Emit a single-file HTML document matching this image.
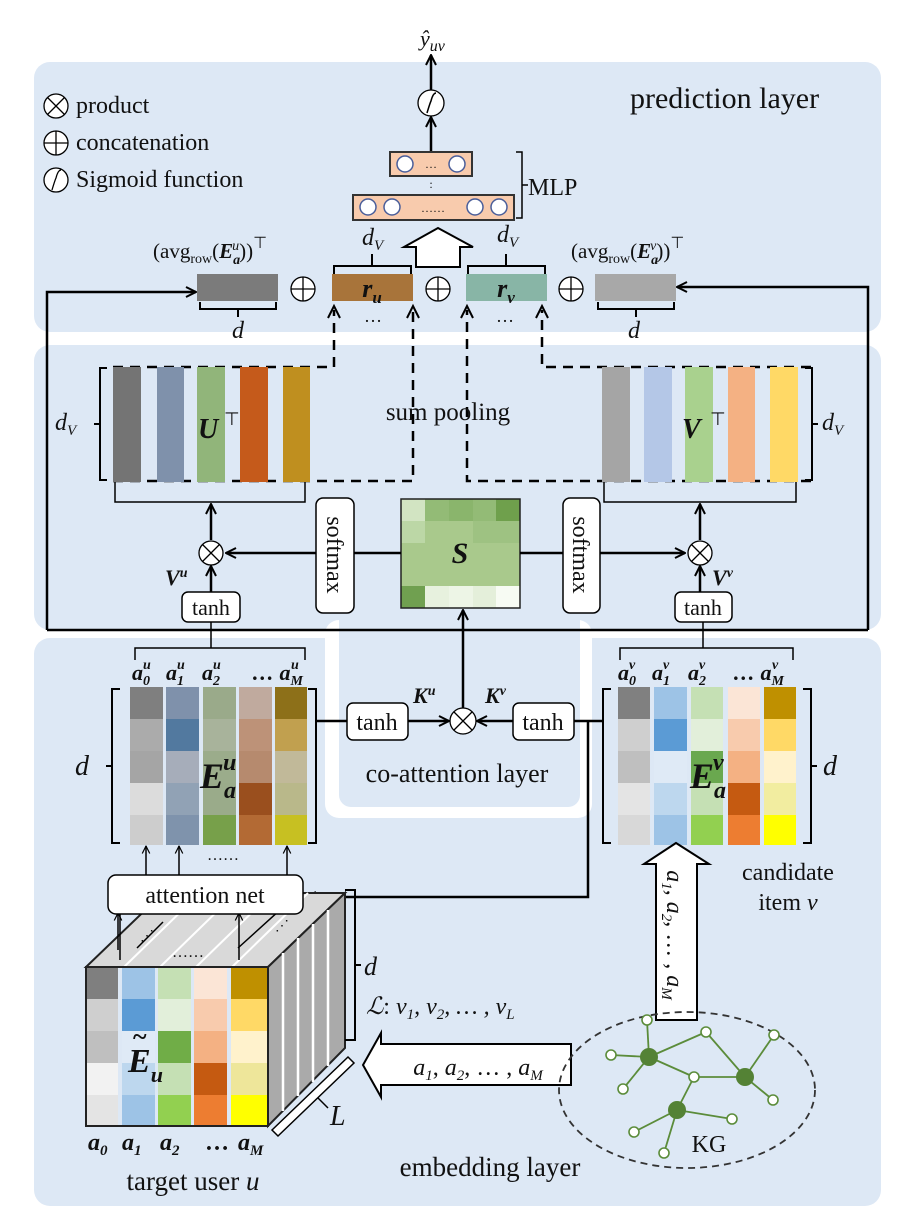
<!DOCTYPE html>
<html><head><meta charset="utf-8"><style>
html,body{margin:0;padding:0;background:#fff;}
svg{display:block;}
text{font-family:"Liberation Serif",serif;fill:#111;}
</style></head><body>
<svg width="908" height="1222" viewBox="0 0 908 1222" xmlns="http://www.w3.org/2000/svg">
<defs>
<marker id="ah" viewBox="0 0 12 12" refX="11" refY="6" markerWidth="12" markerHeight="12" markerUnits="userSpaceOnUse" orient="auto">
<path d="M1,1 L11,6 L1,11" fill="none" stroke="#000" stroke-width="2"/></marker>
<marker id="ahs" viewBox="0 0 12 12" refX="11" refY="6" markerWidth="9" markerHeight="9" markerUnits="userSpaceOnUse" orient="auto">
<path d="M1,1 L11,6 L1,11" fill="none" stroke="#000" stroke-width="1.6"/></marker>
</defs>
<rect width="908" height="1222" fill="#fff"/>
<rect x="34" y="62" width="847" height="270" rx="16" fill="#dde8f5"/>
<rect x="34" y="345" width="847" height="285" rx="16" fill="#dde8f5"/>
<rect x="34" y="638" width="847" height="568" rx="16" fill="#dde8f5"/>
<rect x="325" y="620" width="267" height="198" rx="14" fill="#fff"/>
<rect x="339" y="600" width="241" height="207" rx="12" fill="#dde8f5"/>

<g stroke="#000" stroke-width="1.3" fill="#fff">
<circle cx="56" cy="106" r="12"/><path d="M47.5,97.5 L64.5,114.5 M64.5,97.5 L47.5,114.5"/>
<circle cx="56" cy="143" r="12"/><path d="M44,143 H68 M56,131 V155"/>
<circle cx="56" cy="180" r="12"/><path d="M52,190 Q55,180 56,178 Q58,170 61,170" fill="none"/>
</g>
<text x="76" y="113" font-size="24">product</text>
<text x="76" y="150" font-size="24">concatenation</text>
<text x="76" y="187" font-size="24">Sigmoid function</text>
<text x="630" y="108" font-size="30">prediction layer</text>

<text x="420" y="46" font-size="22" font-style="italic">ŷ<tspan font-size="16" dy="5">uv</tspan></text>
<line x1="431" y1="90" x2="431" y2="55" stroke="#000" stroke-width="2.5" marker-end="url(#ah)"/>
<circle cx="431" cy="103" r="13" fill="#fff" stroke="#000" stroke-width="1.3"/>
<path d="M427,113 Q430,103 431,101 Q433,93 436,93" fill="none" stroke="#000" stroke-width="1.5"/>
<line x1="431" y1="152" x2="431" y2="117" stroke="#000" stroke-width="2.5" marker-end="url(#ah)"/>
<rect x="390" y="152" width="82" height="24" fill="#f8cbad" stroke="#333" stroke-width="2"/>
<circle cx="405" cy="164" r="8" fill="#fff" stroke="#4a5e9a" stroke-width="1.5"/>
<circle cx="457" cy="164" r="8" fill="#fff" stroke="#4a5e9a" stroke-width="1.5"/>
<text x="431" y="168" font-size="12" text-anchor="middle">…</text>
<text x="431" y="188" font-size="12" text-anchor="middle">:</text>
<rect x="353" y="195" width="161" height="25" fill="#f8cbad" stroke="#333" stroke-width="2"/>
<g fill="#fff" stroke="#4a5e9a" stroke-width="1.5">
<circle cx="368" cy="207" r="8"/><circle cx="392" cy="207" r="8"/><circle cx="475" cy="207" r="8"/><circle cx="499" cy="207" r="8"/></g>
<text x="433" y="212" font-size="12" text-anchor="middle">……</text>
<path d="M516,152 h6 v66 h-6 M522,185 h6" fill="none" stroke="#000" stroke-width="1.5"/>
<text x="528" y="195" font-size="24">MLP</text>
<path d="M416,267 V247 H404 L438,228 L473,247 H460 V267 Z" fill="#fff" stroke="#000" stroke-width="2"/>

<rect x="197" y="274" width="81" height="27" fill="#7b7b7b"/>
<rect x="332" y="274" width="81" height="27" fill="#a8743a"/>
<rect x="466" y="274" width="81" height="27" fill="#88b5a6"/>
<rect x="595" y="274" width="81" height="27" fill="#a8a8a8"/>
<text x="372" y="297" font-size="26" font-weight="bold" font-style="italic" text-anchor="middle">r<tspan font-size="17" dy="6">u</tspan></text>
<text x="506" y="297" font-size="26" font-weight="bold" font-style="italic" text-anchor="middle">r<tspan font-size="17" dy="6">v</tspan></text>
<g stroke="#000" stroke-width="1.3" fill="#fff">
<circle cx="303" cy="289" r="12"/><path d="M291,289 H315 M303,277 V301"/>
<circle cx="438" cy="289" r="12"/><path d="M426,289 H450 M438,277 V301"/>
<circle cx="571" cy="289" r="12"/><path d="M559,289 H583 M571,277 V301"/>
</g>
<g fill="none" stroke="#000" stroke-width="2">
<path d="M200,302 v7 h76 v-7 M238,309 v8"/>
<path d="M598,302 v7 h76 v-7 M636,309 v8"/>
<path d="M334,274 v-8 h77 v8 M372,266 v-12"/>
<path d="M468,274 v-8 h77 v8 M506,266 v-12"/>
</g>
<text x="362" y="245" font-size="24" font-style="italic">d<tspan font-size="15" dy="5">V</tspan></text>
<text x="497" y="242" font-size="24" font-style="italic">d<tspan font-size="15" dy="5">V</tspan></text>
<text x="232" y="338" font-size="24" font-style="italic">d</text>
<text x="628" y="338" font-size="24" font-style="italic">d</text>
<text x="153" y="258" font-size="21">(avg<tspan font-size="14" dy="5">row</tspan><tspan dy="-5">(</tspan><tspan font-weight="bold" font-style="italic">E</tspan><tspan font-size="14" font-weight="bold" font-style="italic" dy="6">a</tspan><tspan font-size="14" font-style="italic" dx="-8" dy="-14">u</tspan><tspan dy="8">))</tspan><tspan font-size="16" dy="-10">⊤</tspan></text>
<text x="571" y="258" font-size="21">(avg<tspan font-size="14" dy="5">row</tspan><tspan dy="-5">(</tspan><tspan font-weight="bold" font-style="italic">E</tspan><tspan font-size="14" font-weight="bold" font-style="italic" dy="6">a</tspan><tspan font-size="14" font-style="italic" dx="-8" dy="-14">v</tspan><tspan dy="8">))</tspan><tspan font-size="16" dy="-10">⊤</tspan></text>

<path d="M47,630 V292 H196" fill="none" stroke="#000" stroke-width="2.5" marker-end="url(#ah)"/>
<path d="M868,630 V287 H677" fill="none" stroke="#000" stroke-width="2.5" marker-end="url(#ah)"/>
<path d="M47,630 H868" fill="none" stroke="#000" stroke-width="2.5"/>

<g fill="none" stroke="#000" stroke-width="2.5" stroke-dasharray="10,7">
<path d="M113,367 H334 V310"/>
<path d="M113,481 H413 V310"/>
<path d="M811,481 H467 V310"/>
<path d="M811,367 H542 V310"/>
</g>
<g fill="none" stroke="#000" stroke-width="2">
<path d="M328,318 L334,306 L340,318"/><path d="M407,318 L413,306 L419,318"/>
<path d="M461,318 L467,306 L473,318"/><path d="M536,318 L542,306 L548,318"/>
</g>
<text x="373" y="322" font-size="18" text-anchor="middle">…</text>
<text x="505" y="322" font-size="18" text-anchor="middle">…</text>

<rect x="113" y="367" width="28" height="115" fill="#747474"/>
<rect x="157" y="367" width="27" height="115" fill="#7f91ab"/>
<rect x="197" y="367" width="28" height="115" fill="#91b57a"/>
<rect x="240" y="367" width="28" height="115" fill="#c55a1b"/>
<rect x="283" y="367" width="27" height="115" fill="#bf8f1f"/>
<path d="M107,368 h-7 v112 h7 M100,424 h-6" fill="none" stroke="#000" stroke-width="2"/>
<text x="55" y="430" font-size="24" font-style="italic">d<tspan font-size="15" dy="5">V</tspan></text>
<text x="198" y="438" font-size="28" font-weight="bold" font-style="italic">U</text>
<text x="224" y="425" font-size="18">⊤</text>
<rect x="602" y="367" width="28" height="115" fill="#a5a5a5"/>
<rect x="644" y="367" width="28" height="115" fill="#b4c7e7"/>
<rect x="685" y="367" width="28" height="115" fill="#a9d18e"/>
<rect x="728" y="367" width="27" height="115" fill="#f4b183"/>
<rect x="770" y="367" width="28" height="115" fill="#ffd966"/>
<path d="M805,368 h7 v112 h-7 M812,424 h6" fill="none" stroke="#000" stroke-width="2"/>
<text x="822" y="430" font-size="24" font-style="italic">d<tspan font-size="15" dy="5">V</tspan></text>
<text x="682" y="438" font-size="28" font-weight="bold" font-style="italic">V</text>
<text x="710" y="425" font-size="18">⊤</text>
<text x="448" y="420" font-size="25" text-anchor="middle">sum pooling</text>

<path d="M115,482 v20 h190 v-20" fill="none" stroke="#000" stroke-width="1.5"/>
<path d="M604,482 v20 h192 v-20" fill="none" stroke="#000" stroke-width="1.5"/>
<line x1="211" y1="540" x2="211" y2="504" stroke="#000" stroke-width="2.5" marker-end="url(#ah)"/>
<line x1="700" y1="540" x2="700" y2="504" stroke="#000" stroke-width="2.5" marker-end="url(#ah)"/>
<g transform="translate(401,499)">
<rect width="119" height="109" fill="#a9c98c"/>
<rect x="0" y="0" width="24" height="22" fill="#d2e4c2"/>
<rect x="24" y="0" width="24" height="22" fill="#93bb76"/>
<rect x="48" y="0" width="24" height="22" fill="#8ab56c"/>
<rect x="72" y="0" width="24" height="22" fill="#93bb76"/>
<rect x="95" y="0" width="24" height="22" fill="#6fa04c"/>
<rect x="0" y="22" width="24" height="22" fill="#bcd7a6"/>
<rect x="72" y="22" width="47" height="22" fill="#9ec282"/>
<rect x="0" y="87" width="24" height="22" fill="#70a050"/>
<rect x="24" y="87" width="24" height="22" fill="#e7f1de"/>
<rect x="48" y="87" width="24" height="22" fill="#edf5e6"/>
<rect x="72" y="87" width="24" height="22" fill="#e4efda"/>
<rect x="95" y="87" width="24" height="22" fill="#f7fbf3"/>
<rect width="119" height="109" fill="none" stroke="#222" stroke-width="1.5"/>
</g>
<text x="460" y="563" font-size="30" font-weight="bold" font-style="italic" text-anchor="middle">S</text>
<line x1="401" y1="553" x2="226" y2="553" stroke="#000" stroke-width="2.5" marker-end="url(#ah)"/>
<line x1="520" y1="553" x2="685" y2="553" stroke="#000" stroke-width="2.5" marker-end="url(#ah)"/>
<rect x="316" y="498" width="38" height="115" rx="7" fill="#fff" stroke="#000" stroke-width="1.5"/>
<rect x="563" y="498" width="37" height="115" rx="7" fill="#fff" stroke="#000" stroke-width="1.5"/>
<text transform="translate(327,555) rotate(90)" font-size="24" text-anchor="middle">softmax</text>
<text transform="translate(573,555) rotate(90)" font-size="24" text-anchor="middle">softmax</text>
<g stroke="#000" stroke-width="1.3" fill="#fff">
<circle cx="211" cy="553" r="12"/><path d="M202.5,544.5 L219.5,561.5 M219.5,544.5 L202.5,561.5"/>
<circle cx="700" cy="553" r="12"/><path d="M691.5,544.5 L708.5,561.5 M708.5,544.5 L691.5,561.5"/>
</g>
<line x1="211" y1="592" x2="211" y2="566" stroke="#000" stroke-width="2.5" marker-end="url(#ah)"/>
<line x1="700" y1="592" x2="700" y2="566" stroke="#000" stroke-width="2.5" marker-end="url(#ah)"/>
<text x="165" y="585" font-size="22" font-weight="bold" font-style="italic">V<tspan font-size="14" dy="-8">u</tspan></text>
<text x="712" y="585" font-size="22" font-weight="bold" font-style="italic">V<tspan font-size="14" dy="-8">v</tspan></text>
<rect x="182" y="592" width="58" height="30" rx="6" fill="#fff" stroke="#000" stroke-width="1.5"/>
<rect x="675" y="592" width="57" height="30" rx="6" fill="#fff" stroke="#000" stroke-width="1.5"/>
<text x="211" y="615" font-size="22" text-anchor="middle">tanh</text>
<text x="703" y="615" font-size="22" text-anchor="middle">tanh</text>
<path d="M211,622 V648 M135,660 v-12 h170 v12" fill="none" stroke="#000" stroke-width="1.5"/>
<path d="M703,622 V648 M620,660 v-12 h173 v12" fill="none" stroke="#000" stroke-width="1.5"/>

<g font-size="22" font-weight="bold" font-style="italic">
<text x="132" y="680">a<tspan font-size="14" dy="5">0</tspan><tspan font-size="14" dx="-7" dy="-16">u</tspan></text>
<text x="166" y="680">a<tspan font-size="14" dy="5">1</tspan><tspan font-size="14" dx="-7" dy="-16">u</tspan></text>
<text x="202" y="680">a<tspan font-size="14" dy="5">2</tspan><tspan font-size="14" dx="-7" dy="-16">u</tspan></text>
<text x="252" y="680">… a<tspan font-size="14" dy="5">M</tspan><tspan font-size="14" dx="-12" dy="-16">u</tspan></text>
<text x="618" y="680">a<tspan font-size="14" dy="5">0</tspan><tspan font-size="14" dx="-7" dy="-16">v</tspan></text>
<text x="652" y="680">a<tspan font-size="14" dy="5">1</tspan><tspan font-size="14" dx="-7" dy="-16">v</tspan></text>
<text x="688" y="680">a<tspan font-size="14" dy="5">2</tspan><tspan font-size="14" dx="-7" dy="-16">v</tspan></text>
<text x="733" y="680">… a<tspan font-size="14" dy="5">M</tspan><tspan font-size="14" dx="-12" dy="-16">v</tspan></text>
</g>

<g transform="translate(130,687)">
<rect x="0" y="0" width="33" height="32" fill="#7f7f7f"/><rect x="0" y="32" width="33" height="32" fill="#ababab"/><rect x="0" y="64" width="33" height="32" fill="#a5a5a5"/><rect x="0" y="96" width="33" height="32" fill="#dcdcdc"/><rect x="0" y="128" width="33" height="30" fill="#cdcdcd"/>
<rect x="36" y="0" width="33" height="32" fill="#7f91ab"/><rect x="36" y="32" width="33" height="32" fill="#52799f"/><rect x="36" y="64" width="33" height="32" fill="#a6adba"/><rect x="36" y="96" width="33" height="32" fill="#91a2b5"/><rect x="36" y="128" width="33" height="30" fill="#7f93ac"/>
<rect x="73" y="0" width="33" height="32" fill="#9aaa8a"/><rect x="73" y="32" width="33" height="32" fill="#a8b39b"/><rect x="73" y="64" width="33" height="32" fill="#9bac8b"/><rect x="73" y="96" width="33" height="32" fill="#9aab8a"/><rect x="73" y="128" width="33" height="30" fill="#77a04a"/>
<rect x="109" y="0" width="33" height="32" fill="#c0aa9e"/><rect x="109" y="32" width="33" height="32" fill="#bd9278"/><rect x="109" y="64" width="33" height="32" fill="#b68a6e"/><rect x="109" y="96" width="33" height="32" fill="#9a4f1e"/><rect x="109" y="128" width="33" height="30" fill="#b36a34"/>
<rect x="145" y="0" width="32" height="32" fill="#8d7019"/><rect x="145" y="32" width="32" height="32" fill="#c1a04f"/><rect x="145" y="64" width="32" height="32" fill="#c1b999"/><rect x="145" y="96" width="32" height="32" fill="#b9b88a"/><rect x="145" y="128" width="32" height="30" fill="#c7c022"/>
</g>
<path d="M120,689 h-8 v154 h8 M112,766 h-6" fill="none" stroke="#000" stroke-width="2"/>
<path d="M308,689 h8 v154 h-8" fill="none" stroke="#000" stroke-width="2"/>
<text x="75" y="775" font-size="28" font-style="italic">d</text>
<text x="200" y="788" font-size="36" font-weight="bold" font-style="italic">E<tspan font-size="24" dy="10">a</tspan><tspan font-size="24" dx="-13" dy="-28">u</tspan></text>

<g transform="translate(618,687)">
<rect x="0" y="0" width="32" height="32" fill="#808080"/><rect x="0" y="32" width="32" height="32" fill="#cfcfcf"/><rect x="0" y="64" width="32" height="32" fill="#bfbfbf"/><rect x="0" y="96" width="32" height="32" fill="#e4e4e4"/><rect x="0" y="128" width="32" height="30" fill="#d8d8d8"/>
<rect x="36" y="0" width="33" height="32" fill="#9dc3e6"/><rect x="36" y="32" width="33" height="32" fill="#5b9bd5"/><rect x="36" y="64" width="33" height="32" fill="#dfeaf6"/><rect x="36" y="96" width="33" height="32" fill="#bdd7ee"/><rect x="36" y="128" width="33" height="30" fill="#9dc3e6"/>
<rect x="73" y="0" width="32" height="32" fill="#c5e0b4"/><rect x="73" y="32" width="32" height="32" fill="#e2efda"/><rect x="73" y="64" width="32" height="32" fill="#6aa84f"/><rect x="73" y="96" width="32" height="32" fill="#c5e0b4"/><rect x="73" y="128" width="32" height="30" fill="#92d050"/>
<rect x="110" y="0" width="32" height="32" fill="#fbe5d6"/><rect x="110" y="32" width="32" height="32" fill="#f8cbad"/><rect x="110" y="64" width="32" height="32" fill="#f4b183"/><rect x="110" y="96" width="32" height="32" fill="#c55a11"/><rect x="110" y="128" width="32" height="30" fill="#ed7d31"/>
<rect x="146" y="0" width="32" height="32" fill="#bf9000"/><rect x="146" y="32" width="32" height="32" fill="#ffd966"/><rect x="146" y="64" width="32" height="32" fill="#fff2cc"/><rect x="146" y="96" width="32" height="32" fill="#f2eda0"/><rect x="146" y="128" width="32" height="30" fill="#ffff00"/>
</g>
<path d="M611,689 h-8 v154 h8" fill="none" stroke="#000" stroke-width="2"/>
<path d="M803,689 h8 v154 h-8 M811,766 h6" fill="none" stroke="#000" stroke-width="2"/>
<text x="823" y="775" font-size="28" font-style="italic">d</text>
<text x="690" y="788" font-size="36" font-weight="bold" font-style="italic">E<tspan font-size="24" dy="10">a</tspan><tspan font-size="24" dx="-13" dy="-28">v</tspan></text>

<line x1="316" y1="721" x2="347" y2="721" stroke="#000" stroke-width="2.5"/>
<line x1="408" y1="721" x2="449" y2="721" stroke="#000" stroke-width="2.5" marker-end="url(#ah)"/>
<line x1="513" y1="721" x2="477" y2="721" stroke="#000" stroke-width="2.5" marker-end="url(#ah)"/>
<line x1="574" y1="721" x2="603" y2="721" stroke="#000" stroke-width="2.5"/>
<rect x="347" y="703" width="61" height="37" rx="6" fill="#fff" stroke="#000" stroke-width="1.5"/>
<rect x="513" y="703" width="61" height="37" rx="6" fill="#fff" stroke="#000" stroke-width="1.5"/>
<text x="377" y="730" font-size="24" text-anchor="middle">tanh</text>
<text x="543" y="730" font-size="24" text-anchor="middle">tanh</text>
<circle cx="463" cy="721" r="13" fill="#fff" stroke="#000" stroke-width="1.3"/>
<path d="M454,712 L472,730 M472,712 L454,730" stroke="#000" stroke-width="1.3"/>
<line x1="463" y1="708" x2="463" y2="610" stroke="#000" stroke-width="2.5" marker-end="url(#ah)"/>
<text x="413" y="703" font-size="22" font-weight="bold" font-style="italic">K<tspan font-size="14" dy="-8">u</tspan></text>
<text x="485" y="703" font-size="22" font-weight="bold" font-style="italic">K<tspan font-size="14" dy="-8">v</tspan></text>
<text x="457" y="782" font-size="26" text-anchor="middle">co-attention layer</text>

<path d="M588,721 V897 H306" fill="none" stroke="#000" stroke-width="2.5" marker-end="url(#ah)"/>

<polygon points="86,967 163,893 345,893 268,967" fill="#d9d9d9" stroke="#222" stroke-width="2"/>
<g stroke="#fff" stroke-width="2">
<line x1="124" y1="967" x2="200" y2="893"/><line x1="160" y1="967" x2="236" y2="893"/><line x1="196" y1="967" x2="272" y2="893"/><line x1="232" y1="967" x2="308" y2="893"/>
</g>
<polygon points="268,967 345,893 345,1048 268,1126" fill="#aaaaaa" stroke="#222" stroke-width="2"/>
<g stroke="#fff" stroke-width="2.5">
<line x1="283" y1="953" x2="283" y2="1111"/><line x1="298" y1="938" x2="298" y2="1096"/><line x1="313" y1="924" x2="313" y2="1082"/><line x1="328" y1="910" x2="328" y2="1066"/>
</g>
<g transform="translate(86,967)">
<rect x="0" y="0" width="32" height="32" fill="#7f7f7f"/><rect x="0" y="32" width="32" height="32" fill="#cfcfcf"/><rect x="0" y="64" width="32" height="32" fill="#bfbfbf"/><rect x="0" y="96" width="32" height="32" fill="#f2f2f2"/><rect x="0" y="128" width="32" height="31" fill="#e4e4e4"/>
<rect x="36" y="0" width="33" height="32" fill="#9dc3e6"/><rect x="36" y="32" width="33" height="32" fill="#5b9bd5"/><rect x="36" y="64" width="33" height="32" fill="#dfeaf6"/><rect x="36" y="96" width="33" height="32" fill="#bdd7ee"/><rect x="36" y="128" width="33" height="31" fill="#9dc3e6"/>
<rect x="72" y="0" width="33" height="32" fill="#c5e0b4"/><rect x="72" y="32" width="33" height="32" fill="#e2efda"/><rect x="72" y="64" width="33" height="32" fill="#70ad47"/><rect x="72" y="96" width="33" height="32" fill="#c5e0b4"/><rect x="72" y="128" width="33" height="31" fill="#92d050"/>
<rect x="108" y="0" width="33" height="32" fill="#fbe5d6"/><rect x="108" y="32" width="33" height="32" fill="#f8cbad"/><rect x="108" y="64" width="33" height="32" fill="#f4b183"/><rect x="108" y="96" width="33" height="32" fill="#c55a11"/><rect x="108" y="128" width="33" height="31" fill="#ed7d31"/>
<rect x="145" y="0" width="37" height="32" fill="#bf9000"/><rect x="145" y="32" width="37" height="32" fill="#ffd966"/><rect x="145" y="64" width="37" height="32" fill="#fff2cc"/><rect x="145" y="96" width="37" height="32" fill="#eee69a"/><rect x="145" y="128" width="37" height="31" fill="#ffff00"/>
<rect x="0" y="0" width="182" height="159" fill="none" stroke="#222" stroke-width="2"/>
</g>
<text x="128" y="1072" font-size="34" font-weight="bold" font-style="italic">E<tspan font-size="22" dy="10">u</tspan></text>
<text x="133" y="1045" font-size="26" font-weight="bold">~</text>
<g stroke="#000" stroke-width="1.5" fill="none">
<line x1="118" y1="950" x2="118" y2="913" marker-end="url(#ahs)"/>
<line x1="120" y1="960" x2="120" y2="914"/>
<line x1="239" y1="960" x2="239" y2="913" marker-end="url(#ahs)"/>
<path d="M137,948 L163,922"/>
<path d="M238,948 L280,910 L280,914"/>
</g>
<text x="172" y="957" font-size="16">……</text>
<text x="140" y="940" font-size="14">⋰</text>
<text x="275" y="930" font-size="14">⋰</text>
<path d="M272,1130 L348,1057 L354,1063 L278,1136 Z" fill="#fff" stroke="#000" stroke-width="1.5"/>
<line x1="318" y1="1098" x2="328" y2="1108" stroke="#000" stroke-width="1.5"/>
<text x="330" y="1125" font-size="28" font-style="italic">L</text>
<path d="M345,890 h10 v150 h-10 M355,965 h6" fill="none" stroke="#000" stroke-width="2"/>
<text x="364" y="975" font-size="26" font-style="italic">d</text>
<text x="366" y="1014" font-size="24" font-style="italic">ℒ<tspan font-style="normal">: </tspan>v<tspan font-size="15" dy="5">1</tspan><tspan dy="-5">, </tspan>v<tspan font-size="15" dy="5">2</tspan><tspan dy="-5">, … , </tspan>v<tspan font-size="15" dy="5">L</tspan></text>

<rect x="108" y="875" width="195" height="39" rx="8" fill="#fff" stroke="#000" stroke-width="1.5"/>
<text x="205" y="903" font-size="24" text-anchor="middle">attention net</text>
<g stroke="#000" stroke-width="1.5">
<line x1="146" y1="875" x2="146" y2="846" marker-end="url(#ahs)"/>
<line x1="179" y1="875" x2="179" y2="846" marker-end="url(#ahs)"/>
<line x1="287" y1="875" x2="287" y2="846" marker-end="url(#ahs)"/>
</g>
<text x="223" y="860" font-size="16" text-anchor="middle">……</text>

<path d="M571,1044 V1085 H381 V1097 L363,1065 L381,1033 V1044 Z" fill="#fff" stroke="#000" stroke-width="2"/>
<text x="478" y="1075" font-size="24" font-style="italic" text-anchor="middle">a<tspan font-size="15" dy="5">1</tspan><tspan dy="-5" font-style="normal">, </tspan>a<tspan font-size="15" dy="5">2</tspan><tspan dy="-5" font-style="normal">, … , </tspan>a<tspan font-size="15" dy="5">M</tspan></text>
<path d="M656,1020 V864 H644 L676,843 L709,864 H697 V1020 Z" fill="#fff" stroke="#000" stroke-width="2"/>
<text transform="translate(667,935) rotate(90)" font-size="24" font-style="italic" text-anchor="middle">a<tspan font-size="15" dy="5">1</tspan><tspan dy="-5" font-style="normal">, </tspan>a<tspan font-size="15" dy="5">2</tspan><tspan dy="-5" font-style="normal">, … , </tspan>a<tspan font-size="15" dy="5">M</tspan></text>
<text x="788" y="880" font-size="24" text-anchor="middle">candidate</text>
<text x="788" y="910" font-size="24" text-anchor="middle">item <tspan font-style="italic">v</tspan></text>

<ellipse cx="687" cy="1090" rx="128" ry="78" fill="none" stroke="#333" stroke-width="1.8" stroke-dasharray="7,5"/>
<g stroke="#5b8c3a" stroke-width="1.8">
<line x1="649" y1="1057" x2="611" y2="1055"/><line x1="649" y1="1057" x2="647" y2="1020"/><line x1="649" y1="1057" x2="706" y2="1032"/>
<line x1="649" y1="1057" x2="694" y2="1077"/><line x1="649" y1="1057" x2="623" y2="1089"/>
<line x1="706" y1="1032" x2="745" y2="1077"/><line x1="745" y1="1077" x2="774" y2="1035"/><line x1="745" y1="1077" x2="773" y2="1100"/>
<line x1="745" y1="1077" x2="694" y2="1077"/><line x1="694" y1="1077" x2="677" y2="1110"/>
<line x1="677" y1="1110" x2="732" y2="1119"/><line x1="677" y1="1110" x2="634" y2="1132"/><line x1="677" y1="1110" x2="664" y2="1153"/>
</g>
<g fill="#fff" stroke="#5b8c3a" stroke-width="1.6">
<circle cx="611" cy="1055" r="5"/><circle cx="647" cy="1020" r="5"/><circle cx="706" cy="1032" r="5"/><circle cx="774" cy="1035" r="5"/>
<circle cx="694" cy="1077" r="5"/><circle cx="623" cy="1089" r="5"/><circle cx="773" cy="1100" r="5"/><circle cx="732" cy="1119" r="5"/>
<circle cx="634" cy="1132" r="5"/><circle cx="664" cy="1153" r="5"/>
</g>
<g fill="#548235"><circle cx="649" cy="1057" r="9"/><circle cx="745" cy="1077" r="9"/><circle cx="677" cy="1110" r="9"/></g>
<text x="709" y="1152" font-size="24" text-anchor="middle">KG</text>

<g font-size="24" font-weight="bold" font-style="italic">
<text x="88" y="1150">a<tspan font-size="15" dy="5">0</tspan></text>
<text x="122" y="1150">a<tspan font-size="15" dy="5">1</tspan></text>
<text x="160" y="1150">a<tspan font-size="15" dy="5">2</tspan></text>
<text x="205" y="1150" font-style="normal">…</text>
<text x="238" y="1150">a<tspan font-size="15" dy="5">M</tspan></text>
</g>
<text x="193" y="1190" font-size="27" text-anchor="middle">target user <tspan font-style="italic">u</tspan></text>
<text x="490" y="1176" font-size="27" text-anchor="middle">embedding layer</text>
</svg>
</body></html>
